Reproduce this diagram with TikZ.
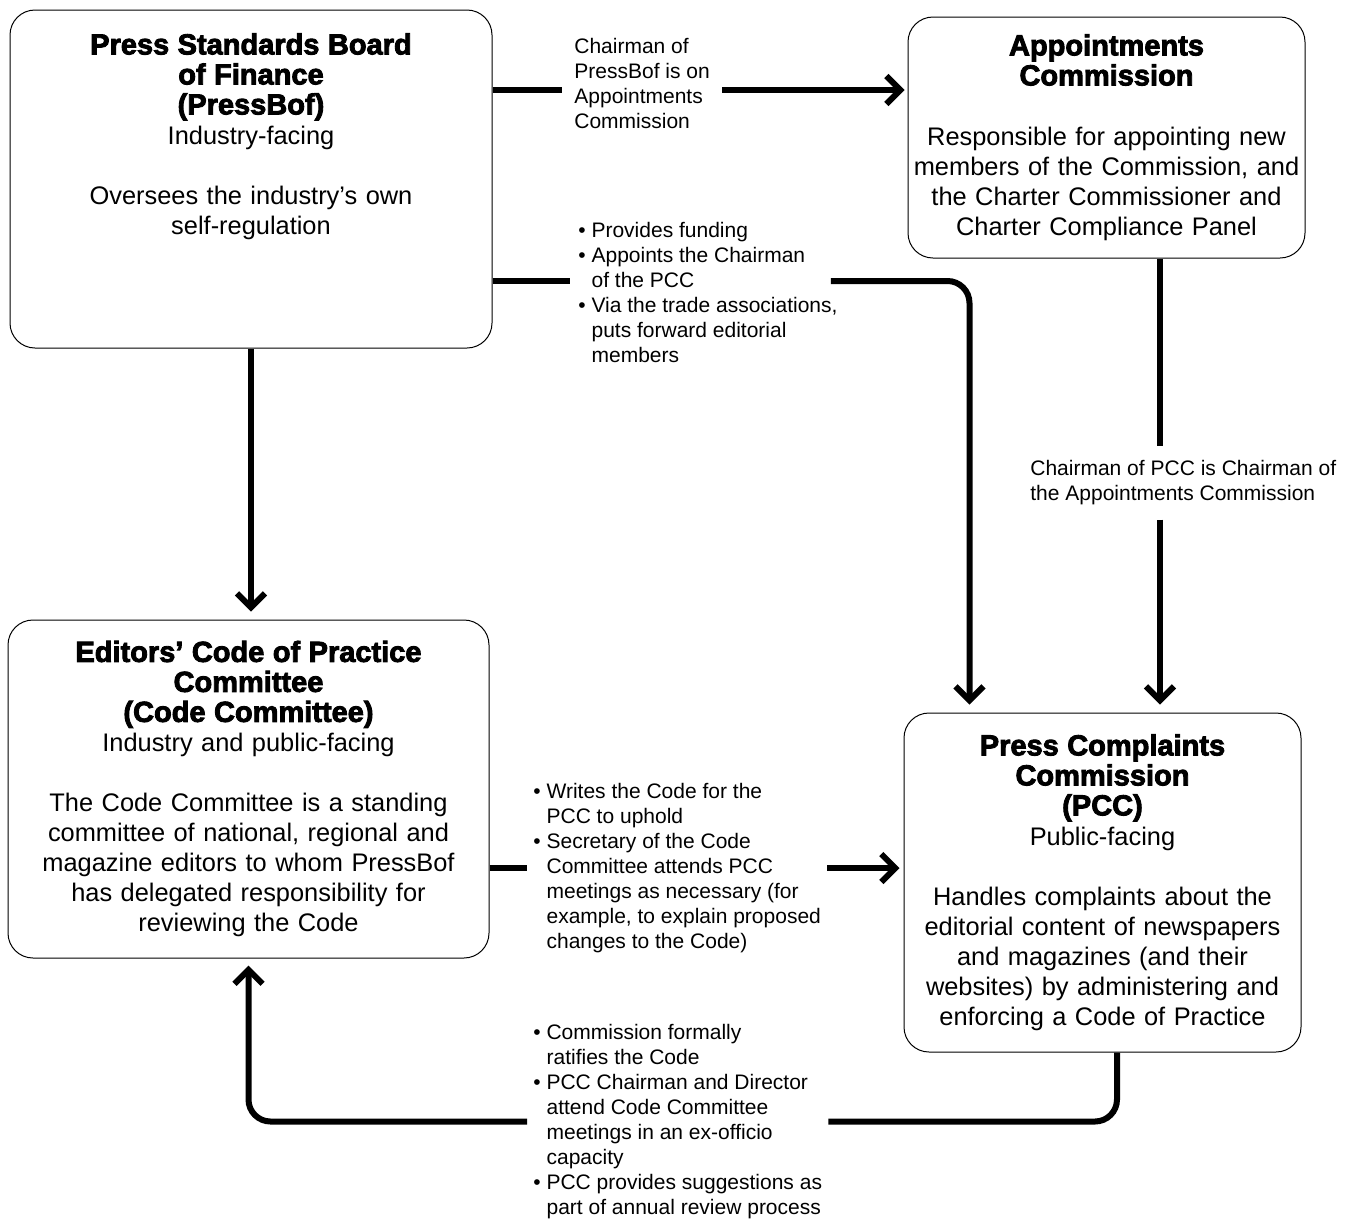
\documentclass[tikz,border=0pt]{standalone}
\usepackage{fontspec}
\setmainfont{Liberation Sans}
\newfontfamily\heavyfont{Liberation Sans Bold}[FakeBold=3]
\usetikzlibrary{arrows.meta,calc}
\newcommand\bodyfont{\fontsize{12.7}{15}\selectfont}
\newcommand\ttlfont{\heavyfont\fontsize{14.5}{15}\selectfont}
\newcommand\lblfont{\fontsize{10.5}{12.5}\selectfont}
\newcommand\bul{\textbullet\ }
\newcommand\ind{\phantom{\textbullet\ }}
\begin{document}
\begin{tikzpicture}[x=0.5pt, y=-0.5pt,
    box/.style={draw, line width=0.5pt, rounded corners=12.5pt,
        align=center, font=\bodyfont, inner sep=0pt},
    lbl/.style={align=left, font=\lblfont, anchor=west, inner ysep=0pt},
    link/.style={line width=3pt, rounded corners=11pt},
    arr/.style={link, -{Straight Barb[length=7pt, width=14pt]}}
]
\useasboundingbox (0,0) rectangle (1356,1222);

% boxes
\node[box, minimum width=241pt, minimum height=169pt] (PressBof) at (251,179) {};
\node[font=\bodyfont, align=center, text width=238pt,
    anchor=north, inner sep=0pt] (PressBofText) at (251,33)
    {{\ttlfont Press Standards Board\\of Finance\\(PressBof)\\}
    Industry-facing\\[15pt]
    Oversees the industry’s own\\self-regulation};
\node[box,
    minimum width=198.5pt,
    minimum height=120.5pt,
    text width=197pt
] (Appoint) at (1106.5,137.5)
    {{\ttlfont Appointments\\Commission\\[15pt]}
    Responsible for appointing new\\members of the Commission, and\\
    the Charter Commissioner and\\Charter Compliance Panel};
\node[box,
    minimum width=240.5pt,
    minimum height=169pt,
    text width=239pt
] (Editors) at (248.5,789)
    {{\ttlfont Editors’ Code of Practice\\Committee\\(Code Committee)\\}
    Industry and public-facing\\[15pt]
    The Code Committee is a standing\\committee of national, regional and\\
    magazine editors to whom PressBof\\has delegated responsibility for\\
    reviewing the Code};
\node[box,
    minimum width=198.5pt,
    minimum height=169.5pt,
    text width=197pt
] (PCC) at (1102.5,882.5)
    {{\ttlfont Press Complaints\\Commission\\(PCC)\\}
    Public-facing\\[15pt]
    Handles complaints about the\\editorial content of newspapers\\
    and magazines (and their\\websites) by administering and\\
    enforcing a Code of Practice};

% labels
\node[lbl, inner xsep=6pt] (L1) at (562,83)
    {Chairman of\\PressBof is on\\Appointments\\Commission};
\node[lbl, inner xsep=4pt] (L2) at (570,292.5)
    {\bul Provides funding\\\bul Appoints the Chairman\\\ind of the PCC\\
    \bul Via the trade associations,\\\ind puts forward editorial\\\ind members};
\node[lbl, inner xsep=0pt, inner ysep=7pt] (L3) at (1030,483)
    {Chairman of PCC is Chairman of\\the Appointments Commission};
\node[lbl, inner xsep=3pt] (L4) at (527,868)
    {\bul Writes the Code for the\\\ind PCC to uphold\\
    \bul Secretary of the Code\\\ind Committee attends PCC\\
    \ind meetings as necessary (for\\\ind example, to explain proposed\\
    \ind changes to the Code)};
\node[lbl, inner xsep=3pt] (L5) at (527,1121.5)
    {\bul Commission formally\\\ind ratifies the Code\\
    \bul PCC Chairman and Director\\\ind attend Code Committee\\
    \ind meetings in an ex-officio\\\ind capacity\\
    \bul PCC provides suggestions as\\\ind part of annual review process};

\coordinate (c1) at (0,90);
\coordinate (c2) at (0,281);
\coordinate (c3) at (1160,0);
\coordinate (c5) at (1117,0);

% connectors
\draw[link] (PressBof.east |- c1) -- (L1.west |- c1);
\draw[arr, shorten >=1.5pt] (L1.east |- c1) -- (Appoint.west |- c1);
\draw[link] (PressBof.east |- c2) -- (L2.west |- c2);
\draw[arr, shorten >=4pt] ($(L2.east |- c2)+(-15,0)$) -| ([xshift=33pt]PCC.north west);
\draw[link] (Appoint.south -| c3) -- (L3.north -| c3);
\draw[arr, shorten >=4pt] (L3.south -| c3) -- (PCC.north -| c3);
\draw[arr, shorten >=4pt] (PressBof.south) -- (Editors.north -| PressBof.south);
\draw[link] (Editors.east |- L4.west) -- (L4.west);
\draw[arr, shorten >=2pt] (L4.east) -- (PCC.west |- L4.east);
\draw[link] (PCC.south -| c5) |- (L5.east);
\draw[arr, shorten >=3.5pt] (L5.west) -| (Editors.south);
\end{tikzpicture}
\end{document}
